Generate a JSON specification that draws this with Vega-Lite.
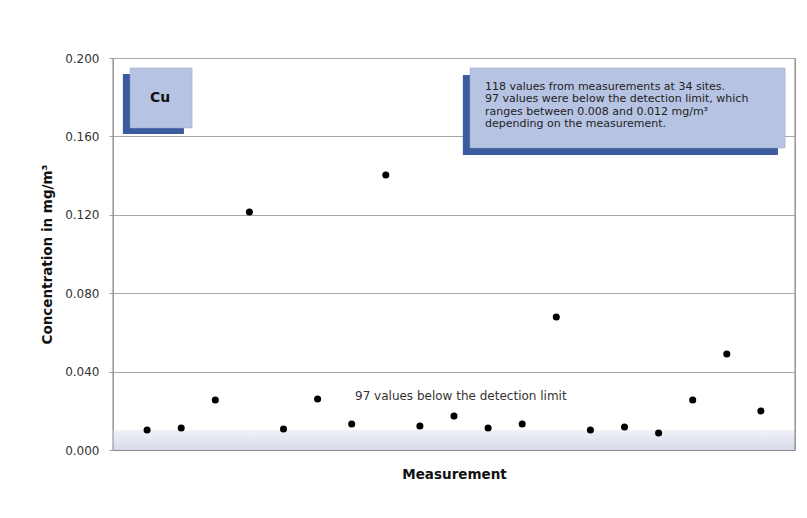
{
  "$schema": "https://vega.github.io/schema/vega-lite/v6.json",
  "width": 682,
  "height": 392,
  "autosize": {"type": "none"},
  "padding": {"left": 113, "top": 58, "right": 12, "bottom": 68},
  "background": "white",
  "config": {
    "font": "DejaVu Sans",
    "view": {"stroke": "#9a9a9a", "strokeWidth": 1}
  },
  "datasets": {
    "points": [
      {"m": 1, "c": 0.0102}, {"m": 2, "c": 0.0112}, {"m": 3, "c": 0.0255},
      {"m": 4, "c": 0.1214}, {"m": 5, "c": 0.0107}, {"m": 6, "c": 0.0260},
      {"m": 7, "c": 0.0133}, {"m": 8, "c": 0.1403}, {"m": 9, "c": 0.0122},
      {"m": 10, "c": 0.0173}, {"m": 11, "c": 0.0112}, {"m": 12, "c": 0.0133},
      {"m": 13, "c": 0.0679}, {"m": 14, "c": 0.0102}, {"m": 15, "c": 0.0117},
      {"m": 16, "c": 0.0087}, {"m": 17, "c": 0.0255}, {"m": 18, "c": 0.0490},
      {"m": 19, "c": 0.0199}
    ],
    "band": [{"x0": 0, "x1": 20, "y0": 0, "y1": 0.0102}],
    "borders": [{"x": 0, "y0": 0, "y1": 0.2}, {"x": 20, "y0": 0, "y1": 0.2}],
    "shadows": [
      {"x0": 0.29, "x1": 2.08, "y0": 0.1612, "y1": 0.1918},
      {"x0": 10.26, "x1": 19.5, "y0": 0.1505, "y1": 0.1913}
    ],
    "boxes": [
      {"x0": 0.5, "x1": 2.32, "y0": 0.1643, "y1": 0.1949},
      {"x0": 10.47, "x1": 19.71, "y0": 0.1541, "y1": 0.1949}
    ],
    "label": [{"x": 1.38, "y": 0.1796, "t": "Cu"}],
    "note": [{"x": 10.91, "y": 0.1853, "t": "118 values from measurements at 34 sites.\n97 values were below the detection limit, which\nranges between 0.008 and 0.012 mg/m³\ndepending on the measurement."}],
    "bandlabel": [{"x": 10.2, "y": 0.0276, "t": "97 values below the detection limit"}]
  },
  "layer": [
    {
      "data": {"name": "band"},
      "mark": {"type": "rect", "color": {"gradient": "linear", "x1": 0, "y1": 0, "x2": 0, "y2": 1, "stops": [{"offset": 0, "color": "#f1f2f9"}, {"offset": 1, "color": "#d6d9ea"}]}},
      "encoding": {
        "x": {"field": "x0", "type": "quantitative", "scale": {"domain": [0, 20], "nice": false}, "axis": {"title": "Measurement", "labels": false, "ticks": false, "grid": false, "domain": true, "domainColor": "#8a8a8a", "titleFontSize": 13.5, "titleFontWeight": "bold", "titleColor": "#111", "titlePadding": 17}},
        "x2": {"field": "x1"},
        "y": {"field": "y0", "type": "quantitative", "scale": {"domain": [0, 0.2], "nice": false}, "axis": {"title": "Concentration in mg/m³", "values": [0, 0.04, 0.08, 0.12, 0.16, 0.2], "format": ".3f", "labelFontSize": 12, "labelColor": "#333", "tickSize": 4, "tickColor": "#a0a0a0", "labelPadding": 10, "gridColor": "#a8a8a8", "domain": true, "domainColor": "#9a9a9a", "titleFontSize": 13.5, "titleFontWeight": "bold", "titleColor": "#111", "titlePadding": 10}},
        "y2": {"field": "y1"}
      }
    },
    {
      "data": {"name": "borders"},
      "mark": {"type": "rule", "color": "#9a9a9a", "strokeWidth": 1.2},
      "encoding": {
        "x": {"field": "x", "type": "quantitative"},
        "y": {"field": "y0", "type": "quantitative"},
        "y2": {"field": "y1"}
      }
    },
    {
      "data": {"name": "shadows"},
      "mark": {"type": "rect", "color": "#3b5b9e"},
      "encoding": {
        "x": {"field": "x0", "type": "quantitative"},
        "x2": {"field": "x1"},
        "y": {"field": "y0", "type": "quantitative"},
        "y2": {"field": "y1"}
      }
    },
    {
      "data": {"name": "boxes"},
      "mark": {"type": "rect", "color": "#b7c3e3", "stroke": "#9aa6c8", "strokeWidth": 0.5},
      "encoding": {
        "x": {"field": "x0", "type": "quantitative"},
        "x2": {"field": "x1"},
        "y": {"field": "y0", "type": "quantitative"},
        "y2": {"field": "y1"}
      }
    },
    {
      "data": {"name": "label"},
      "mark": {"type": "text", "fontSize": 14, "fontWeight": "bold", "color": "#111", "align": "center", "baseline": "middle"},
      "encoding": {
        "x": {"field": "x", "type": "quantitative"},
        "y": {"field": "y", "type": "quantitative"},
        "text": {"field": "t"}
      }
    },
    {
      "data": {"name": "note"},
      "mark": {"type": "text", "fontSize": 11, "color": "#222", "align": "left", "baseline": "middle", "lineBreak": "\n", "lineHeight": 12.5},
      "encoding": {
        "x": {"field": "x", "type": "quantitative"},
        "y": {"field": "y", "type": "quantitative"},
        "text": {"field": "t"}
      }
    },
    {
      "data": {"name": "bandlabel"},
      "mark": {"type": "text", "fontSize": 12, "color": "#333", "align": "center", "baseline": "middle"},
      "encoding": {
        "x": {"field": "x", "type": "quantitative"},
        "y": {"field": "y", "type": "quantitative"},
        "text": {"field": "t"}
      }
    },
    {
      "data": {"name": "points"},
      "mark": {"type": "point", "filled": true, "color": "#000", "size": 50, "opacity": 1},
      "encoding": {
        "x": {"field": "m", "type": "quantitative"},
        "y": {"field": "c", "type": "quantitative"}
      }
    }
  ]
}
